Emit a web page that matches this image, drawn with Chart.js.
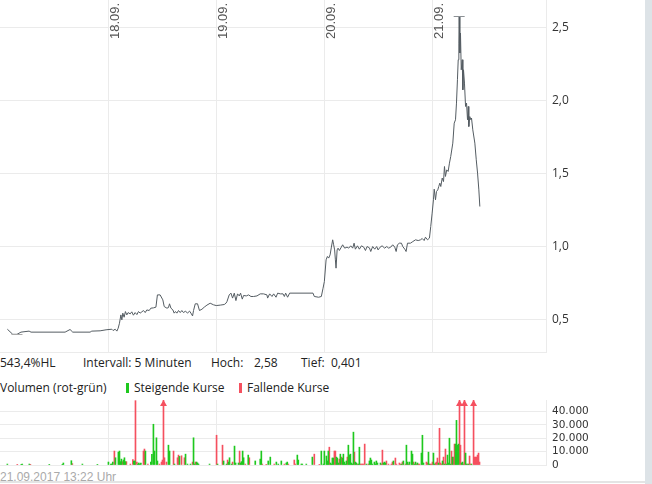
<!DOCTYPE html>
<html lang="de">
<head>
<meta charset="utf-8">
<title>Kursverlauf 5 Tage</title>
<script src="https://cdn.jsdelivr.net/npm/chart.js@4.4.1/dist/chart.umd.min.js"></script>
<style>
  html, body { margin: 0; padding: 0; background: #fff; }
  body { width: 652px; height: 484px; position: relative; overflow: hidden; font-family: "Open Sans", sans-serif; font-size: 12px; color: #222; }
  #price { position: absolute; left: 0; top: 0; }
  #volume { position: absolute; left: 0; top: 393px; }
  .txt { position: absolute; white-space: nowrap; line-height: 16px; }
  .mark { position: absolute; width: 3px; height: 10px; top: 383px; }
  #stamp { position: absolute; left: 0; top: 470px; font: 12px "Liberation Sans", Arial, sans-serif; color: #aaa; line-height: 14px; white-space: nowrap; }
  #footLine { position: absolute; left: 0; top: 481px; width: 645px; height: 2px; background: #e4e4e4; }
  #sideBar { position: absolute; left: 645px; top: 0; width: 7px; height: 484px; background: #dde3e7; }
</style>
</head>
<body>
<canvas id="price" width="645" height="354"></canvas>

<div class="txt" style="left:0;top:355px">543,4%HL</div>
<div class="txt" style="left:83px;top:355px">Intervall: 5 Minuten</div>
<div class="txt" style="left:211px;top:355px">Hoch:</div>
<div class="txt" style="left:254px;top:355px">2,58</div>
<div class="txt" style="left:301px;top:355px">Tief:</div>
<div class="txt" style="left:331px;top:355px">0,401</div>

<div class="txt" style="left:0;top:380px">Volumen (rot-grün)</div>
<div class="mark" style="left:126px;background:#1ec81e"></div>
<div class="txt" style="left:134px;top:380px">Steigende Kurse</div>
<div class="mark" style="left:239px;background:#f5505f"></div>
<div class="txt" style="left:247px;top:380px">Fallende Kurse</div>

<canvas id="volume" width="645" height="77"></canvas>

<div id="stamp">21.09.2017 13:22 Uhr</div>
<div id="footLine"></div>
<div id="sideBar"></div>

<script>
// time axis: days from 17.09. (one day = one grid column)
const xMax = 5.05;
const dayTicks = [1, 2, 3, 4];
const dayLabels = ['18.09.', '19.09.', '20.09.', '21.09.'];

// price axis
const priceMin = 0.28, priceMax = 2.69;
const priceTickValues = [0.5, 1.0, 1.5, 2.0, 2.5];
const priceTickLabels = ['0,5', '1,0', '1,5', '2,0', '2,5'];

// volume axis
const volMax = 48500;
const volTickValues = [0, 10000, 20000, 30000, 40000];
const volTickLabels = ['0', '10.000', '20.000', '30.000', '40.000'];

// Kurs (5-Minuten-Werte)
const priceTimes = [
  0.068,0.118,0.157,0.194,0.269,0.287,0.602,0.648,0.673,0.833,
  0.849,0.926,0.981,1.034,1.046,1.065,1.081,1.093,1.105,1.118,
  1.127,1.136,1.148,1.160,1.173,1.185,1.204,1.219,1.234,1.250,
  1.266,1.281,1.296,1.312,1.327,1.343,1.358,1.380,1.395,1.419,
  1.442,1.456,1.481,1.506,1.519,1.544,1.558,1.568,1.581,1.599,
  1.611,1.623,1.636,1.651,1.667,1.682,1.697,1.716,1.734,1.753,
  1.766,1.781,1.790,1.806,1.827,1.845,1.868,1.889,1.914,1.944,
  1.975,2.000,2.037,2.074,2.090,2.099,2.120,2.136,2.151,2.167,
  2.182,2.197,2.213,2.225,2.241,2.253,2.278,2.299,2.321,2.345,
  2.377,2.407,2.438,2.469,2.475,2.494,2.516,2.531,2.553,2.568,
  2.593,2.618,2.630,2.642,2.660,2.679,2.895,2.907,2.947,2.972,
  2.988,3.000,3.016,3.028,3.040,3.053,3.065,3.077,3.086,3.095,
  3.102,3.108,3.118,3.127,3.139,3.157,3.169,3.188,3.210,3.225,
  3.244,3.262,3.275,3.287,3.306,3.324,3.343,3.364,3.380,3.395,
  3.417,3.429,3.447,3.466,3.484,3.497,3.516,3.534,3.558,3.577,
  3.595,3.614,3.632,3.651,3.664,3.676,3.694,3.713,3.725,3.744,
  3.756,3.769,3.796,3.818,3.843,3.868,3.889,3.905,3.923,3.935,
  3.954,3.972,3.984,3.997,4.009,4.016,4.028,4.037,4.049,4.058,
  4.068,4.077,4.090,4.102,4.111,4.120,4.132,4.145,4.157,4.169,
  4.188,4.201,4.213,4.222,4.231,4.238,4.244,4.247,4.253,4.259,
  4.266,4.275,4.281,4.287,4.296,4.306,4.315,4.324,4.331,4.336,
  4.345,4.355,4.361,4.373,4.392,4.405,4.417,4.429,4.438
];
const priceValues = [
  0.436,0.401,0.401,0.416,0.423,0.416,0.416,0.434,0.416,0.416,
  0.423,0.425,0.432,0.436,0.427,0.436,0.423,0.443,0.477,0.534,
  0.500,0.546,0.518,0.557,0.534,0.550,0.541,0.555,0.532,0.550,
  0.536,0.557,0.546,0.555,0.564,0.550,0.568,0.564,0.580,0.582,
  0.587,0.671,0.671,0.637,0.591,0.580,0.584,0.610,0.580,0.568,
  0.546,0.557,0.546,0.564,0.550,0.564,0.550,0.560,0.546,0.560,
  0.546,0.527,0.564,0.610,0.610,0.564,0.573,0.587,0.601,0.614,
  0.603,0.598,0.601,0.605,0.614,0.625,0.671,0.683,0.649,0.683,
  0.632,0.678,0.664,0.683,0.642,0.667,0.664,0.671,0.660,0.660,
  0.664,0.678,0.678,0.671,0.649,0.678,0.660,0.678,0.655,0.683,
  0.678,0.678,0.660,0.683,0.655,0.683,0.683,0.660,0.655,0.660,
  0.717,0.762,0.911,0.934,0.923,0.945,0.998,1.048,1.014,0.979,
  0.911,0.854,0.979,0.991,0.975,0.998,1.014,0.991,0.998,0.991,
  1.007,0.991,1.025,0.984,1.007,0.984,1.007,0.998,0.975,1.002,
  0.993,0.968,1.002,0.984,1.002,0.979,0.998,1.007,0.991,1.002,
  0.991,0.998,1.014,0.998,0.968,1.014,1.025,1.025,1.002,0.984,
  0.968,1.025,1.025,1.036,1.048,1.043,1.048,1.057,1.043,1.066,
  1.048,1.060,1.139,1.231,1.322,1.395,1.322,1.379,1.390,1.413,
  1.436,1.413,1.471,1.447,1.550,1.482,1.527,1.516,1.573,1.619,
  1.710,1.847,1.870,1.984,2.144,2.281,2.395,2.580,2.327,2.464,
  2.212,2.281,2.075,2.212,2.121,1.961,1.984,1.870,1.961,1.824,
  1.892,1.870,1.882,1.801,1.710,1.596,1.505,1.390,1.276
];

// Volumen, steigende Kurse (grün)
const upTimes = [
  0.068,0.197,0.206,0.271,0.456,0.577,0.586,0.660,0.762,0.901,
  1.003,1.025,1.034,1.043,1.068,1.095,1.105,1.114,1.123,1.142,
  1.151,1.160,1.238,1.247,1.275,1.284,1.294,1.303,1.345,1.395,
  1.405,1.419,1.429,1.447,1.456,1.558,1.568,1.614,1.660,1.716,
  1.734,1.762,1.790,1.799,1.818,1.827,1.836,1.938,2.012,2.068,
  2.095,2.114,2.123,2.142,2.169,2.179,2.206,2.225,2.234,2.244,
  2.253,2.296,2.361,2.407,2.417,2.481,2.500,2.556,2.574,2.602,
  2.648,2.657,2.750,2.759,2.787,2.796,2.833,2.889,2.972,2.991,
  3.000,3.019,3.028,3.037,3.056,3.065,3.074,3.083,3.111,3.120,
  3.130,3.148,3.167,3.176,3.185,3.194,3.204,3.222,3.231,3.241,
  3.250,3.259,3.269,3.287,3.296,3.315,3.324,3.389,3.417,3.426,
  3.435,3.444,3.463,3.472,3.481,3.491,3.519,3.546,3.556,3.565,
  3.639,3.713,3.731,3.759,3.769,3.787,3.806,3.815,3.833,3.843,
  3.861,3.898,3.907,3.917,3.963,3.972,4.009,4.019,4.056,4.093,
  4.111,4.130,4.139,4.148,4.157,4.167,4.185,4.213,4.222,4.231,
  4.241,4.269,4.278,4.306,4.315,4.333,4.361
];
const upVolumes = [
  700,250,700,700,250,250,1500,3200,700,250,
  2200,700,700,2200,5400,9600,10400,2500,4400,3700,
  5400,2500,3000,3000,700,1500,700,1500,10400,2200,
  7900,30400,10400,20300,3000,14800,10400,700,6400,8100,
  700,700,20300,700,2200,1500,700,700,700,3000,
  700,2200,5400,700,14100,1500,1500,1500,2500,10400,
  5400,7400,3000,4400,10400,3000,5900,2200,700,3000,
  1500,2200,7400,3700,700,700,700,5900,10400,700,
  10400,6700,3000,10400,1500,700,5200,5200,5900,5200,
  1500,8100,5200,8100,2200,700,3000,14800,7400,8100,
  1500,700,24500,2200,1500,700,13300,700,3000,5200,
  3700,700,2200,700,3000,1500,1500,1500,2200,1500,
  3000,700,3000,14800,2200,2200,10400,8100,700,2200,
  1500,8900,22200,1500,9600,700,8900,700,1500,3000,
  700,700,7400,1500,20000,700,5900,15600,33300,14800,
  15600,1500,2200,8900,700,700,700
];

// Volumen, fallende Kurse (rot)
const downTimes = [
  0.160,0.281,0.669,1.058,1.132,1.169,1.206,1.229,1.253,1.266,
  1.327,1.336,1.368,1.475,1.494,1.503,1.512,1.521,1.540,1.605,
  1.642,1.651,1.679,1.706,1.781,1.808,2.003,2.058,2.105,2.151,
  2.216,2.269,2.306,2.426,2.463,2.537,2.630,2.667,2.722,2.731,
  2.907,2.954,3.046,3.093,3.102,3.139,3.157,3.213,3.278,3.306,
  3.333,3.343,3.352,3.361,3.373,3.407,3.528,3.537,3.574,3.593,
  3.620,3.630,3.657,3.667,3.694,3.704,3.722,3.750,3.778,3.824,
  3.852,3.870,3.880,3.944,3.954,3.981,3.991,4.000,4.028,4.037,
  4.046,4.065,4.074,4.083,4.102,4.120,4.176,4.194,4.204,4.250,
  4.259,4.287,4.296,4.324,4.343,4.352,4.380,4.389,4.398,4.407,
  4.417,4.426,4.435
];
const downVolumes = [
  250,250,1000,10400,2500,2500,700,4000,48000,2200,
  10400,11900,700,700,2200,3700,60000,5400,2200,10400,
  5400,7400,6900,5400,2200,2200,22200,14800,3700,2200,
  10400,700,5400,700,250,700,700,700,3700,700,
  8100,250,13300,10400,10400,4400,5900,5900,9600,700,
  700,700,700,700,15600,700,700,11100,3000,700,
  700,2200,5200,700,1500,700,2200,700,700,2200,
  700,700,700,2200,1500,700,700,2200,1500,2200,
  5200,27400,1500,700,5900,11900,10400,5900,15600,60000,
  14800,700,60000,700,6700,700,60000,5900,5900,5900,
  7400,8900,2200
];

const GRID = '#ebebeb';
const LINE = '#545c62';
const UP = '#1ec81e';
const DOWN = '#f5505f';

// Datumsbeschriftung senkrecht oben in der Kurs-Grafik
const dateLabelsPlugin = {
  id: 'dateLabels',
  beforeDatasetsDraw(chart) {
    const { ctx, chartArea } = chart;
    const x = chart.scales.x;
    ctx.save();
    ctx.font = '13px "Liberation Sans", Arial, sans-serif';
    ctx.fillStyle = '#555';
    ctx.textBaseline = 'alphabetic';
    dayTicks.forEach((d, i) => {
      ctx.save();
      ctx.translate(x.getPixelForValue(d) + 11, chartArea.top + 39);
      ctx.rotate(-Math.PI / 2);
      ctx.fillText(dayLabels[i], 0, 0);
      ctx.restore();
    });
    ctx.restore();
  }
};

// Hoch-/Tief-Markierung
const hiLoPlugin = {
  id: 'hiLo',
  afterDatasetsDraw(chart) {
    const { ctx } = chart;
    const x = chart.scales.x, y = chart.scales.y;
    const hi = Math.max(...priceValues), lo = Math.min(...priceValues);
    const marks = [
      [priceTimes[priceValues.indexOf(hi)], hi, '#8c9195'],
      [priceTimes[priceValues.lastIndexOf(lo)], lo, '#a8a8a8']
    ];
    ctx.save();
    ctx.lineWidth = 1;
    marks.forEach(([t, v, c]) => {
      const px = x.getPixelForValue(t), py = Math.round(y.getPixelForValue(v)) + 0.5;
      ctx.strokeStyle = c;
      ctx.beginPath();
      ctx.moveTo(px - 5.5, py);
      ctx.lineTo(px + 5.5, py);
      ctx.stroke();
    });
    ctx.restore();
  }
};

// Pfeile für Balken über dem Skalenende
const overflowPlugin = {
  id: 'overflow',
  afterDatasetsDraw(chart) {
    const { ctx, chartArea } = chart;
    const y = chart.scales.y;
    ctx.save();
    chart.data.datasets.forEach((ds, di) => {
      const meta = chart.getDatasetMeta(di);
      meta.data.forEach((el, i) => {
        if (ds.data[i].y <= y.max) return;
        ctx.fillStyle = ds.backgroundColor;
        ctx.beginPath();
        ctx.moveTo(el.x, chartArea.top);
        ctx.lineTo(el.x + 3.5, chartArea.top + 6);
        ctx.lineTo(el.x - 3.5, chartArea.top + 6);
        ctx.closePath();
        ctx.fill();
      });
    });
    ctx.restore();
  }
};

function dayAxis() {
  return {
    type: 'linear', min: 0, max: xMax, offset: false,
    afterBuildTicks: s => { s.ticks = dayTicks.map(v => ({ value: v })); },
    ticks: { display: false, autoSkip: false },
    grid: { color: GRID, drawTicks: false, offset: false },
    border: { display: true, color: GRID },
    afterFit: s => { s.height = 0; }
  };
}

function rightAxis(min, max, values, labels, font) {
  return {
    position: 'right', min: min, max: max,
    afterBuildTicks: s => { s.ticks = values.map(v => ({ value: v })); },
    ticks: { callback: (v, i) => labels[i], padding: 6, color: '#333', font: font, autoSkip: false },
    grid: { color: GRID, drawTicks: false },
    border: { display: true, color: GRID },
    afterFit: s => { s.width = 99; s.paddingTop = 0; s.paddingBottom = 0; }
  };
}

new Chart(document.getElementById('price'), {
  type: 'line',
  data: {
    datasets: [{
      data: priceTimes.map((t, i) => ({ x: t, y: priceValues[i] })),
      borderColor: LINE,
      borderWidth: 1,
      pointRadius: 0,
      tension: 0,
      fill: false
    }]
  },
  options: {
    responsive: false,
    animation: false,
    events: [],
    layout: { padding: { top: 0, bottom: 2, left: 0, right: 0 } },
    plugins: { legend: { display: false }, tooltip: { enabled: false } },
    scales: {
      x: dayAxis(),
      y: rightAxis(priceMin, priceMax, priceTickValues, priceTickLabels, { family: 'Open Sans', size: 12 })
    }
  },
  plugins: [dateLabelsPlugin, hiLoPlugin]
});

new Chart(document.getElementById('volume'), {
  type: 'bar',
  data: {
    datasets: [
      { data: upTimes.map((t, i) => ({ x: t, y: upVolumes[i] })), backgroundColor: UP, barThickness: 1, grouped: false },
      { data: downTimes.map((t, i) => ({ x: t, y: downVolumes[i] })), backgroundColor: DOWN, barThickness: 1, grouped: false }
    ]
  },
  options: {
    responsive: false,
    animation: false,
    events: [],
    layout: { padding: { top: 7, bottom: 5, left: 0, right: 0 } },
    plugins: { legend: { display: false }, tooltip: { enabled: false } },
    scales: {
      x: dayAxis(),
      y: rightAxis(0, volMax, volTickValues, volTickLabels, { family: 'DejaVu Sans', size: 10.5 })
    }
  },
  plugins: [overflowPlugin]
});
</script>
</body>
</html>
